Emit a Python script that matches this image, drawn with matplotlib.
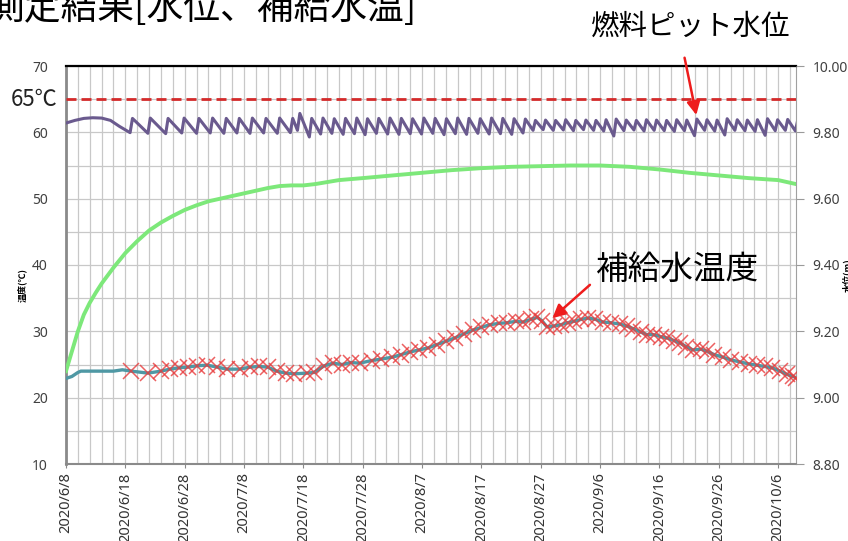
import matplotlib
matplotlib.use("Agg")
import matplotlib.pyplot as plt
import numpy as np

plt.rcParams["font.family"] = ["Noto Sans", "Noto Sans CJK JP", "DejaVu Sans"]
JP = ["Noto Sans CJK JP", "DejaVu Sans"]

# ---- data (x = days since 2020/6/8) ----
tick_days = [0, 10, 20, 30, 40, 50, 60, 70, 80, 90, 100, 110, 120]
tick_labels = ["2020/6/8", "2020/6/18", "2020/6/28", "2020/7/8", "2020/7/18",
               "2020/7/28", "2020/8/7", "2020/8/17", "2020/8/27", "2020/9/6",
               "2020/9/16", "2020/9/26", "2020/10/6"]

# pool temperature (green, left axis)
pool_days = [0, 1, 2, 3, 4, 5, 6, 8, 10, 12, 14, 16, 18, 20, 22, 24, 26, 28, 30,
             32, 34, 36, 38, 40, 42, 44, 46, 50, 55, 60, 65, 70, 75, 80, 85, 90,
             95, 100, 105, 110, 115, 120, 123]
pool_temp = [24.0, 27.0, 30.0, 32.5, 34.3, 35.8, 37.2, 39.6, 41.8, 43.6, 45.2,
             46.4, 47.4, 48.3, 49.0, 49.6, 50.0, 50.4, 50.8, 51.2, 51.6, 51.9,
             52.0, 52.0, 52.2, 52.5, 52.8, 53.1, 53.5, 53.9, 54.3, 54.6, 54.8,
             54.9, 55.0, 55.0, 54.8, 54.4, 53.9, 53.5, 53.1, 52.8, 52.2]

# make-up water temperature: continuous sensor before first manual reading
mu_early_days = [0, 1, 2, 2.5, 5, 8, 9.5]
mu_early_temp = [22.9, 23.2, 23.8, 24.0, 24.0, 24.0, 24.2]

# make-up water temperature readings (red x)
mu_days = [11.0, 13.8, 16.0, 17.5, 19.0, 20.5, 22.0, 23.8, 25.5, 27.1, 29.3, 31.0,
           32.5, 34.0, 35.5, 37.0, 38.5, 40.6, 41.8, 43.5, 45.0, 46.5, 48.0, 49.5,
           51.5, 53.0, 55.0, 56.5, 58.0, 59.5, 61.0, 62.5, 64.0, 65.5, 67.0, 68.6,
           70.0, 71.4, 73.0, 74.3, 75.8, 77.0, 78.3, 79.4, 80.2, 81.0, 82.2, 83.4,
           84.5, 85.6, 86.8, 88.0, 89.2, 90.5, 91.8, 93.3, 94.5, 95.6, 96.8, 97.9,
           99.0, 100.2, 101.3, 102.5, 103.5, 104.5, 105.6, 107.0, 108.0, 109.2,
           110.7, 112.0, 113.5, 115.0, 116.4, 117.7, 119.0, 120.3, 121.5, 122.5, 123.0]
mu_temp = [24.0, 23.7, 24.0, 24.3, 24.5, 24.6, 24.8, 24.9, 24.6, 24.3, 24.3, 24.6,
           24.7, 24.6, 24.0, 23.7, 23.6, 23.7, 23.8, 24.8, 25.2, 25.0, 25.3, 25.2,
           25.6, 25.8, 26.1, 26.5, 26.9, 27.2, 27.5, 28.0, 28.5, 29.0, 29.6, 30.2,
           30.6, 31.0, 31.2, 31.3, 31.5, 31.4, 31.8, 32.1, 31.6, 30.7, 30.8, 31.0,
           31.3, 31.5, 31.8, 32.0, 31.8, 31.4, 31.3, 31.1, 30.8, 30.4, 29.9, 29.5,
           29.5, 29.2, 29.0, 28.6, 28.2, 27.7, 27.2, 27.3, 27.0, 26.5,
           26.1, 25.7, 25.4, 25.1, 24.9, 24.7, 24.5, 24.0, 23.5, 23.2, 23.0]

# fuel pit water level (purple, right axis)
lvl_start_days = [0, 1.5, 3, 4.5, 6, 7.5, 9]
lvl_start_vals = [9.828, 9.836, 9.842, 9.844, 9.843, 9.836, 9.818]
trough_days = [10.8, 13.8, 16.8, 19.5, 22.0, 24.3, 26.6, 28.8, 31.0, 33.3, 35.6,
               37.8, 39.0, 41.0, 42.9, 44.8, 46.7, 48.6, 50.4, 52.3, 54.2, 56.1,
               58.0, 59.9, 61.8, 63.7, 65.6, 67.5, 69.4, 71.3, 73.2, 75.1, 77.0,
               78.7, 80.4, 82.1, 83.8, 85.5, 87.2, 88.9, 90.6, 92.3, 94.0, 95.7,
               97.4, 99.1, 100.8, 102.5, 104.2, 105.9, 107.6, 109.3, 111.0, 112.7,
               114.4, 116.1, 117.8, 119.5, 121.2, 122.9]
peak_days = [11.2, 14.2, 17.2, 19.9, 22.4, 24.7, 27.0, 29.2, 31.4, 33.7, 36.0,
             38.2, 39.4, 41.4, 43.3, 45.2, 47.1, 49.0, 50.8, 52.7, 54.6, 56.5,
             58.4, 60.3, 62.2, 64.1, 66.0, 67.9, 69.8, 71.7, 73.6, 75.5, 77.4,
             79.1, 80.8, 82.5, 84.2, 85.9, 87.6, 89.3, 91.0, 92.7, 94.4, 96.1,
             97.8, 99.5, 101.2, 102.9, 104.6, 106.3, 108.0, 109.7, 111.4, 113.1,
             114.8, 116.5, 118.2, 119.9, 121.6, 123.3]
trough_vals = [9.799, 9.797, 9.796, 9.798, 9.797, 9.798, 9.797, 9.798, 9.797, 9.798,
               9.797, 9.799, 9.806,
               9.786, 9.795, 9.797, 9.794, 9.796, 9.793, 9.797, 9.795, 9.794, 9.796,
               9.795, 9.797, 9.793, 9.796, 9.794, 9.797, 9.795, 9.796, 9.794, 9.798,
               9.806, 9.808, 9.806, 9.807, 9.805, 9.808, 9.806, 9.804, 9.789, 9.805,
               9.807, 9.804, 9.806, 9.805, 9.803, 9.805, 9.790, 9.806, 9.804, 9.792,
               9.806, 9.805, 9.803, 9.791, 9.805, 9.806, 9.804]
peak_vals = [9.842, 9.843, 9.842, 9.843, 9.842, 9.843, 9.842, 9.842, 9.843, 9.842,
             9.843, 9.842, 9.857,
             9.842, 9.843, 9.841, 9.842, 9.843, 9.841, 9.842, 9.843, 9.842, 9.841,
             9.843, 9.842, 9.841, 9.843, 9.842, 9.841, 9.843, 9.842, 9.841, 9.840,
             9.836, 9.837, 9.836, 9.838, 9.836, 9.837, 9.836, 9.838, 9.840, 9.837,
             9.836, 9.838, 9.837, 9.836, 9.838, 9.837, 9.840, 9.838, 9.837, 9.841,
             9.838, 9.837, 9.838, 9.841, 9.838, 9.839, 9.838]

limit_temp = 65

# ---- build level series ----
lvl_days = list(lvl_start_days)
lvl_vals = list(lvl_start_vals)
for td, tv, pd_, pv in zip(trough_days, trough_vals, peak_days, peak_vals):
    lvl_days += [td, pd_]
    lvl_vals += [tv, pv]

mu_line_days = mu_early_days + mu_days
mu_line_temp = mu_early_temp + mu_temp

# ---- figure ----
W, H = 848, 541
fig = plt.figure(figsize=(W / 100, H / 100), dpi=100)
ax = fig.add_axes([66 / W, 77 / H, 730 / W, 398 / H])

ax.set_xlim(0, 123)
ax.set_ylim(10, 70)
ax.set_xticks(tick_days)
ax.set_xticklabels(tick_labels, rotation=90, fontsize=10.5, color="#333333")
ax.set_xticks(np.arange(0, 124, 2), minor=True)
ax.set_yticks([10, 20, 30, 40, 50, 60, 70])
ax.set_yticks(np.arange(10, 71, 5), minor=True)
ax.tick_params(axis="y", which="both", length=0, pad=13, labelsize=10, labelcolor="#404040")
ax.tick_params(axis="x", which="major", length=3, color="#888888", pad=3)
ax.tick_params(axis="x", which="minor", length=0)
ax.grid(which="both", color="#c8c8c8", linewidth=0.9)
ax.set_axisbelow(True)

ax.spines["top"].set_color("black")
ax.spines["top"].set_linewidth(1.6)
ax.spines["left"].set_color("#8a8a8a")
ax.spines["left"].set_linewidth(2)
ax.spines["bottom"].set_color("#8a8a8a")
ax.spines["bottom"].set_linewidth(1.5)
ax.spines["right"].set_color("#a0a0a0")

ax.axhline(limit_temp, color="#d42a2a", lw=2, dashes=(3.6, 1.8), zorder=3)
ax.plot(pool_days, pool_temp, color="#7de87a", lw=2.8, zorder=4)
ax.plot(mu_line_days, mu_line_temp, color="#4f98a4", lw=2.4, zorder=4)
ax.plot(mu_days, mu_temp, ls="none", marker="x", ms=11, mew=1.1,
        color="#e8393a", alpha=0.8, zorder=5)

ax2 = ax.twinx()
ax2.set_ylim(8.8, 10.0)
ticks2 = [8.8, 9.0, 9.2, 9.4, 9.6, 9.8, 10.0]
ax2.set_yticks(ticks2)
ax2.set_yticklabels([f"{t:.2f}" for t in ticks2])
ax2.tick_params(axis="y", length=6, color="#9a9a9a", pad=6, labelsize=10, labelcolor="#404040")
for s in ax2.spines.values():
    s.set_visible(False)
ax2.plot(lvl_days, lvl_vals, color="#6a5a8e", lw=2.2, zorder=6)

# ---- texts ----
def fx(px):
    return px / W


def fy(py):
    return 1 - py / H


fig.text(fx(-12), fy(19), "測定結果[水位、補給水温]", family=JP, fontsize=26.5,
         va="baseline", ha="left")
fig.text(fx(690), fy(27), "燃料ピット水位", family=JP, fontsize=20.5, ha="center", va="center")
fig.text(fx(678), fy(270), "補給水温度", family=JP, fontsize=23.5, ha="center", va="center")
fig.text(fx(34), fy(99), "65℃", family=JP, fontsize=16, ha="center", va="center", color="#222222")
fig.text(fx(22), fy(285), "温度(℃)", family=JP, fontsize=6.5, fontweight="bold",
         rotation=90, ha="center", va="center")
fig.text(fx(842), fy(275), "水位(m)", family=JP, fontsize=6.5, fontweight="bold",
         rotation=90, ha="left", va="center")

arrow = dict(arrowstyle="-|>", color="#ee1c1c", lw=1.8, mutation_scale=20)
ax.annotate("", xy=(106.3, 62.2), xytext=(fx(684), fy(55)),
            textcoords="figure fraction", arrowprops=arrow, annotation_clip=False)
ax.annotate("", xy=(81.6, 31.7), xytext=(fx(592), fy(283)),
            textcoords="figure fraction", arrowprops=arrow, annotation_clip=False)

fig.savefig("out.png", dpi=100)
